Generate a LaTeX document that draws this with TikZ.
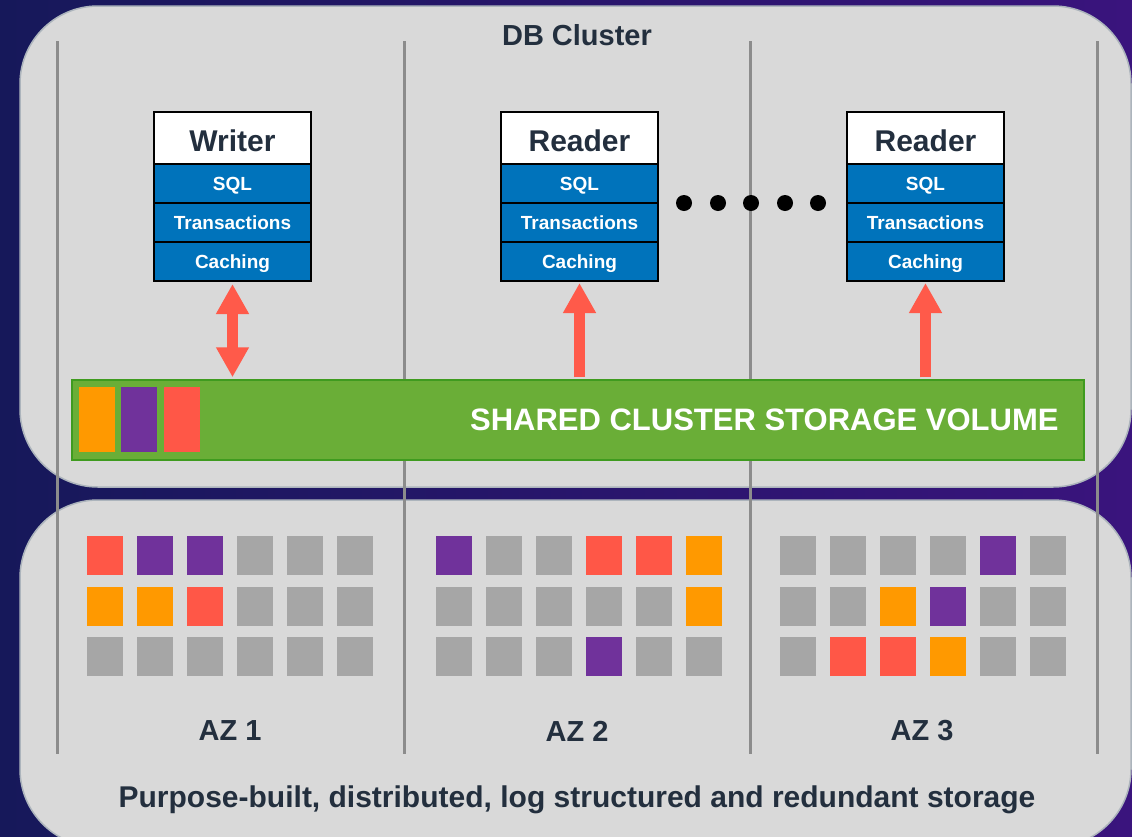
\documentclass[tikz,border=0pt]{standalone}
\usepackage{fontspec}
\setmainfont{Liberation Sans}
\usetikzlibrary{positioning, arrows.meta}

\definecolor{bgleft}{RGB}{22,24,90}
\definecolor{bgright}{RGB}{58,20,125}
\definecolor{panelgray}{RGB}{217,217,217}
\definecolor{paneledge}{RGB}{172,180,188}
\definecolor{sepgray}{RGB}{140,140,140}
\definecolor{awsblue}{RGB}{0,115,187}
\definecolor{inkdark}{RGB}{35,47,62}
\definecolor{arrowred}{RGB}{255,90,74}
\definecolor{barfill}{RGB}{106,174,55}
\definecolor{baredge}{RGB}{63,155,31}
\definecolor{sqR}{RGB}{255,87,71}
\definecolor{sqP}{RGB}{112,50,155}
\definecolor{sqO}{RGB}{255,153,0}
\definecolor{sqG}{RGB}{166,166,166}

\begin{document}
\begin{tikzpicture}[
        x=1pt, y=-1pt,
        font=\bfseries,
        % Styles
        panel/.style={% For the two big grey panels
            fill=panelgray,
            draw=paneledge,
            line width=1.5pt,
            rounded corners=78pt,
            },
        separator/.style={% For the AZ dividing lines
            draw=sepgray,
            line width=3pt,
            },
        head/.style={% For the Writer / Reader headers
            rectangle,
            draw,
            fill=white,
            line width=1.2pt,
            outer sep=0pt,
            inner sep=0pt,
            minimum width=157pt,
            minimum height=52pt,
            text height=26pt,
            text depth=0pt,
            text=inkdark,
            font=\fontsize{30}{30}\selectfont\bfseries,
            },
        layer/.style={% For SQL, Transactions, Caching
            rectangle,
            draw,
            fill=awsblue,
            line width=1.2pt,
            outer sep=0pt,
            inner sep=0pt,
            minimum width=157pt,
            minimum height=39pt,
            text height=17.6pt,
            text depth=4pt,
            text=white,
            font=\fontsize{19}{19}\selectfont\bfseries,
            },
        bar/.style={% For the shared volume
            rectangle,
            draw=baredge,
            fill=barfill,
            line width=1.5pt,
            minimum width=1012pt,
            minimum height=80pt,
            },
        bartext/.style={% Label inside the volume
            text=white,
            inner sep=0pt,
            font=\fontsize{31}{31}\selectfont\bfseries,
            },
        block/.style={% Coloured pieces in the volume
            rectangle,
            minimum width=36pt,
            minimum height=65pt,
            inner sep=0pt,
            },
        chunk/.style={% Storage squares
            rectangle,
            minimum width=36pt,
            minimum height=39pt,
            inner sep=0pt,
            },
        dot/.style={% The dots between readers
            circle,
            fill=black,
            minimum size=16pt,
            inner sep=0pt,
            },
        mylabel/.style={% Dark texts
            text=inkdark,
            font=\fontsize{29}{29}\selectfont\bfseries,
            },
        bigarrow/.style={% Thick red arrows
            draw=arrowred,
            line width=11pt,
            >={Triangle[length=30pt, width=31pt]},
            },
        ]

    % Background and panels
        \useasboundingbox (0,0) rectangle (1132,836);
        \fill[left color=bgleft, right color=bgright] (0,0) rectangle (1132,836);
        \draw[panel] (20,6) rectangle (1131,487);
        \draw[panel] (20,500) rectangle (1131,847);

    % AZ dividing lines
        \foreach \sx in {57,404,750,1097}
            \draw[separator] (\sx,41) -- (\sx,754);

    % Draw the instances named writer, reader1, reader2
        \node [head] (writer) at (232.5,138) {Writer};
        \node [layer, below=0pt of writer] (sql1) {SQL};
        \node [layer, below=0pt of sql1] (trans1) {Transactions};
        \node [layer, below=0pt of trans1] (cache1) {Caching};

        \node [head] (reader1) at (579.5,138) {Reader};
        \node [layer, below=0pt of reader1] (sql2) {SQL};
        \node [layer, below=0pt of sql2] (trans2) {Transactions};
        \node [layer, below=0pt of trans2] (cache2) {Caching};

        \node [head] (reader2) at (925.5,138) {Reader};
        \node [layer, below=0pt of reader2] (sql3) {SQL};
        \node [layer, below=0pt of sql3] (trans3) {Transactions};
        \node [layer, below=0pt of trans3] (cache3) {Caching};

        \foreach \dx [count=\i] in {684,718,751,785,818}
            \node [dot] (dot\i) at (\dx,203) {};

    % Shared volume
        \node [bar] (bar) at (578,420) {};
        \node [bartext, left=26pt of bar.east] (volume) {SHARED CLUSTER STORAGE VOLUME};
        \node [block, fill=sqO] (blk1) at (97,419.5) {};
        \node [block, fill=sqP, right=6pt of blk1] (blk2) {};
        \node [block, fill=sqR, right=6pt of blk2] (blk3) {};

    % Arrows between instances and volume
        \draw [bigarrow, <->, shorten <=3pt, shorten >=2pt] (cache1.south) -- (cache1.south |- bar.north);
        \draw [bigarrow, ->, shorten <=2pt, shorten >=2pt] (cache2.south |- bar.north) -- (cache2.south);
        \draw [bigarrow, ->, shorten <=2pt, shorten >=2pt] (cache3.south |- bar.north) -- (cache3.south);

    % Storage squares named sq<az>-<row>-<col>
        \foreach \az/\xs/\r/\ys/\ca/\cb/\cc/\cd/\ce/\cf in {
            1/105/1/555/sqR/sqP/sqP/sqG/sqG/sqG,
            1/105/2/606/sqO/sqO/sqR/sqG/sqG/sqG,
            1/105/3/656.5/sqG/sqG/sqG/sqG/sqG/sqG,
            2/454/1/555/sqP/sqG/sqG/sqR/sqR/sqO,
            2/454/2/606/sqG/sqG/sqG/sqG/sqG/sqO,
            2/454/3/656.5/sqG/sqG/sqG/sqP/sqG/sqG,
            3/798/1/555/sqG/sqG/sqG/sqG/sqP/sqG,
            3/798/2/606/sqG/sqG/sqO/sqP/sqG/sqG,
            3/798/3/656.5/sqG/sqR/sqR/sqO/sqG/sqG}
            \foreach \col [count=\i] in {\ca,\cb,\cc,\cd,\ce,\cf}
                \node [chunk, fill=\col] (sq\az-\r-\i) at ({\xs+50*(\i-1)},\ys) {};

    % Texts
        \node [mylabel] (cluster) at (577,35) {DB Cluster};
        \node [mylabel] (az1) at (230,731) {AZ 1};
        \node [mylabel] (az2) at (577,731) {AZ 2};
        \node [mylabel] (az3) at (922,731) {AZ 3};
        \node [mylabel, font=\fontsize{30}{30}\selectfont\bfseries] (purpose) at (577,800) {Purpose-built, distributed, log structured and redundant storage};

\end{tikzpicture}
\end{document}
